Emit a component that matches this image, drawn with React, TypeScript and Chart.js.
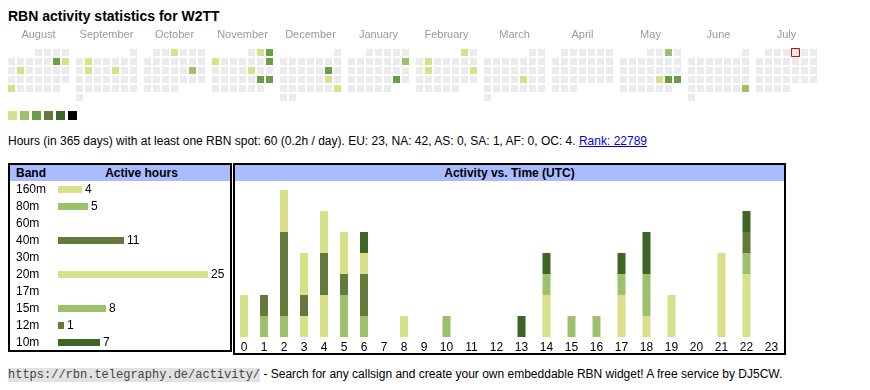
import React, { useEffect, useRef } from "react";
import { Chart, registerables } from "chart.js";

Chart.register(...registerables);

const FONT = "'Liberation Sans', Arial, Helvetica, sans-serif";
Chart.defaults.font.family = FONT;

// ---------- Calendar data ----------
const MONTH_NAMES = ["August", "September", "October", "November", "December", "January", "February", "March", "April", "May", "June", "July"];
const FIRST_YEAR = 2024;
const FIRST_MONTH = 7; // August (0-based)
const ACTIVE_DATES = [
  "2024-08-10", "2024-08-11", "2024-08-13", "2024-08-26",
  "2024-09-03", "2024-09-10", "2024-09-13",
  "2024-10-03", "2024-10-19",
  "2024-11-02", "2024-11-03", "2024-11-04", "2024-11-10", "2024-11-15", "2024-11-23", "2024-11-24",
  "2024-12-14", "2024-12-21", "2024-12-29",
  "2025-01-12", "2025-01-25",
  "2025-02-01", "2025-02-04", "2025-02-11", "2025-02-16",
  "2025-03-21",
  "2025-05-03", "2025-05-23", "2025-05-24", "2025-05-25",
  "2025-06-29",
];
const ACTIVE_LEVELS = [
  3, 1, 1, 1,
  1, 1, 1,
  1, 2,
  1, 3, 1, 3, 1, 3, 3,
  3, 1, 1,
  2, 3,
  1, 1, 1, 1,
  1,
  2, 1, 3, 3,
  2,
];
const TODAY = "2025-07-04";
const EMPTY_COLOR = "#ebebeb";
const LEVEL_COLORS = ["#d9e08a", "#9dc16a", "#6a9e45", "#637a3a", "#3c6526", "#000000"];

// ---------- Band / hour data ----------
const BANDS = ["160m", "80m", "60m", "40m", "30m", "20m", "17m", "15m", "12m", "10m"];
const BAND_ACTIVE_HOURS = [4, 5, 0, 11, 0, 25, 0, 8, 1, 7];
const BAND_COLORS = ["#d9e08a", "#9dc16a", "#6a9e45", "#637a3a", "#3c6526", "#d9e08a", "#6a9e45", "#9dc16a", "#637a3a", "#3c6526"];
const HOUR_LABELS = ["0", "1", "2", "3", "4", "5", "6", "7", "8", "9", "10", "11", "12", "13", "14", "15", "16", "17", "18", "19", "20", "21", "22", "23"];
const HOURS_160M = [1, 0, 0, 1, 2, 0, 0, 0, 0, 0, 0, 0, 0, 0, 0, 0, 0, 0, 0, 0, 0, 0, 0, 0];
const HOURS_80M = [0, 1, 1, 0, 0, 2, 1, 0, 0, 0, 0, 0, 0, 0, 0, 0, 0, 0, 0, 0, 0, 0, 0, 0];
const HOURS_60M = [0, 0, 0, 0, 0, 0, 0, 0, 0, 0, 0, 0, 0, 0, 0, 0, 0, 0, 0, 0, 0, 0, 0, 0];
const HOURS_40M = [0, 1, 4, 1, 2, 1, 2, 0, 0, 0, 0, 0, 0, 0, 0, 0, 0, 0, 0, 0, 0, 0, 0, 0];
const HOURS_30M = [0, 0, 0, 0, 0, 0, 0, 0, 0, 0, 0, 0, 0, 0, 0, 0, 0, 0, 0, 0, 0, 0, 0, 0];
const HOURS_20M = [1, 0, 2, 2, 2, 2, 1, 0, 1, 0, 0, 0, 0, 0, 2, 0, 0, 2, 1, 2, 0, 4, 3, 0];
const HOURS_17M = [0, 0, 0, 0, 0, 0, 0, 0, 0, 0, 0, 0, 0, 0, 0, 0, 0, 0, 0, 0, 0, 0, 0, 0];
const HOURS_15M = [0, 0, 0, 0, 0, 0, 0, 0, 0, 0, 1, 0, 0, 0, 1, 1, 1, 1, 2, 0, 0, 0, 1, 0];
const HOURS_12M = [0, 0, 0, 0, 0, 0, 0, 0, 0, 0, 0, 0, 0, 0, 0, 0, 0, 0, 0, 0, 0, 0, 1, 0];
const HOURS_10M = [0, 0, 0, 0, 0, 0, 1, 0, 0, 0, 0, 0, 0, 1, 1, 0, 0, 1, 2, 0, 0, 0, 1, 0];
const HOURS_BY_BAND = [HOURS_160M, HOURS_80M, HOURS_60M, HOURS_40M, HOURS_30M, HOURS_20M, HOURS_17M, HOURS_15M, HOURS_12M, HOURS_10M];

// ---------- layout constants ----------
const CELL = 9; // cell pitch in px
const MONTH_PITCH = 68 / CELL; // month block pitch in cell units
const LEGEND_PITCH = 12 / CELL;
const CAL_W = 819;
const CAL_H = 102;
const CAL_XMIN = -3.5 / CELL;
const CAL_YMIN = -28.5 / CELL;

function ChartCanvas({ make, width, height, style }: { make: (c: HTMLCanvasElement) => Chart; width: number; height: number; style: React.CSSProperties }) {
  const ref = useRef<HTMLCanvasElement | null>(null);
  useEffect(() => {
    if (!ref.current) return;
    const chart = make(ref.current);
    return () => chart.destroy();
  }, []);
  return <canvas ref={ref} width={width} height={height} style={{ position: "absolute", width, height, ...style }} />;
}

function pad2(n: number) { return n < 10 ? "0" + n : "" + n; }

function makeCalendar(canvas: HTMLCanvasElement) {
  const cells: { x: number; y: number }[] = [];
  const colors: string[] = [];
  let todayPt: { x: number; y: number } | null = null;
  for (let m = 0; m < MONTH_NAMES.length; m++) {
    const y = FIRST_YEAR + Math.floor((FIRST_MONTH + m) / 12);
    const mo = (FIRST_MONTH + m) % 12;
    const first = (new Date(y, mo, 1).getDay() + 6) % 7;
    const days = new Date(y, mo + 1, 0).getDate();
    for (let d = 1; d <= days; d++) {
      const dow = (new Date(y, mo, d).getDay() + 6) % 7;
      const row = Math.floor((d - 1 + first) / 7);
      const key = `${y}-${pad2(mo + 1)}-${pad2(d)}`;
      const pt = { x: m * MONTH_PITCH + dow, y: row };
      cells.push(pt);
      const idx = ACTIVE_DATES.indexOf(key);
      colors.push(idx >= 0 ? LEVEL_COLORS[ACTIVE_LEVELS[idx] - 1] : EMPTY_COLOR);
      if (key === TODAY) todayPt = pt;
    }
  }
  const legendPts = LEVEL_COLORS.map((_, k) => ({ x: k * LEGEND_PITCH + 1 / CELL, y: 7 }));
  const monthLabels = {
    id: "monthLabels",
    afterDatasetsDraw(chart: any) {
      const { ctx, scales } = chart;
      ctx.save();
      ctx.font = `11px ${FONT}`;
      ctx.fillStyle = "#9a9a9a";
      ctx.textAlign = "center";
      ctx.textBaseline = "middle";
      MONTH_NAMES.forEach((name, m) => {
        ctx.fillText(name, scales.x.getPixelForValue(m * MONTH_PITCH + 3), scales.y.getPixelForValue(-2));
      });
      ctx.restore();
    },
  };
  return new Chart(canvas, {
    type: "scatter",
    data: {
      datasets: [
        { data: cells, backgroundColor: colors, pointStyle: "rect", pointRadius: 3.5 * Math.SQRT2, pointBorderWidth: 0, borderWidth: 0, clip: false } as any,
        { data: todayPt ? [todayPt] : [], backgroundColor: "rgba(0,0,0,0)", borderColor: "#e00000", pointStyle: "rect", pointRadius: 4 * Math.SQRT2, pointBorderWidth: 1, borderWidth: 1, clip: false } as any,
        { data: legendPts, backgroundColor: LEVEL_COLORS, pointStyle: "rect", pointRadius: 4.5 * Math.SQRT2, pointBorderWidth: 0, borderWidth: 0, clip: false } as any,
      ],
    },
    options: {
      responsive: false,
      animation: false,
      events: [],
      layout: { padding: 0, autoPadding: false },
      plugins: { legend: { display: false }, tooltip: { enabled: false } },
      scales: {
        x: { type: "linear", display: false, min: CAL_XMIN, max: CAL_XMIN + CAL_W / CELL },
        y: { type: "linear", display: false, reverse: true, min: CAL_YMIN, max: CAL_YMIN + CAL_H / CELL },
      },
    },
    plugins: [monthLabels],
  } as any);
}

function makeBands(canvas: HTMLCanvasElement) {
  const valueLabels = {
    id: "valueLabels",
    afterDatasetsDraw(chart: any) {
      const { ctx } = chart;
      const meta = chart.getDatasetMeta(0);
      ctx.save();
      ctx.font = `12px ${FONT}`;
      ctx.fillStyle = "#000";
      ctx.textAlign = "left";
      ctx.textBaseline = "middle";
      meta.data.forEach((el: any, i: number) => {
        const v = BAND_ACTIVE_HOURS[i];
        if (v > 0) ctx.fillText(String(v), el.x + 3, el.y + 0.5);
      });
      ctx.restore();
    },
  };
  return new Chart(canvas, {
    type: "bar",
    data: {
      labels: BANDS,
      datasets: [{
        data: BAND_ACTIVE_HOURS.map((v) => (v > 0 ? v : null)),
        backgroundColor: BAND_COLORS,
        barThickness: 7,
        borderWidth: 0,
        inflateAmount: 0,
      }],
    },
    options: {
      indexAxis: "y",
      responsive: false,
      animation: false,
      events: [],
      layout: { padding: { left: 0, right: 22, top: 0, bottom: 0 }, autoPadding: false },
      plugins: { legend: { display: false }, tooltip: { enabled: false } },
      scales: {
        x: { display: false, min: 0, max: Math.max(...BAND_ACTIVE_HOURS) },
        y: {
          grid: { display: false, drawTicks: false },
          border: { display: false },
          ticks: { autoSkip: false, crossAlign: "far", color: "#000", font: { size: 12, family: FONT }, padding: 0 },
          afterFit: (s: any) => { s.width = 42; s.paddingTop = 0; s.paddingBottom = 0; },
        },
      },
    },
    plugins: [valueLabels],
  } as any);
}

function makeHours(canvas: HTMLCanvasElement) {
  // HTML-table-like column widths derived from the label text length
  const widths = HOUR_LABELS.map((l) => 15 + 5 * l.length);
  const centers: number[] = [];
  let acc = 0;
  widths.forEach((w) => { centers.push(acc + w / 2); acc += w; });
  const total = acc;
  return new Chart(canvas, {
    type: "bar",
    data: {
      datasets: BANDS.map((b, bi) => ({
        label: b,
        data: HOURS_BY_BAND[bi].map((v, h) => ({ x: centers[h], y: v > 0 ? v : null })),
        backgroundColor: BAND_COLORS[bi],
        barThickness: 8,
        borderWidth: 0,
        inflateAmount: 0,
      })),
    },
    options: {
      responsive: false,
      animation: false,
      events: [],
      layout: { padding: { top: 8, left: 0, right: 0, bottom: 0 }, autoPadding: false },
      plugins: { legend: { display: false }, tooltip: { enabled: false } },
      scales: {
        x: {
          type: "linear",
          stacked: true,
          offset: false,
          min: 0,
          max: total,
          grid: { display: false, drawTicks: false },
          border: { display: false },
          afterBuildTicks: (s: any) => { s.ticks = centers.map((v) => ({ value: v })); },
          afterFit: (s: any) => { s.paddingLeft = 0; s.paddingRight = 0; },
          ticks: {
            autoSkip: false,
            maxRotation: 0,
            color: "#000",
            padding: 3,
            font: { size: 12, family: FONT, lineHeight: 1.25 },
            callback: (_v: any, i: number) => HOUR_LABELS[i],
          },
        },
        y: { stacked: true, display: false, min: 0, max: 7 },
      },
    },
  } as any);
}

const headerStyle: React.CSSProperties = {
  position: "absolute",
  background: "#aabbff",
  font: `bold 12px ${FONT}`,
  lineHeight: "16px",
  color: "#000",
};

export default function App() {
  return (
    <div style={{ position: "absolute", left: 0, top: 0, width: 870, height: 390, fontFamily: FONT, color: "#000" }}>
      <div style={{ position: "absolute", left: 8, top: 8, font: `bold 14px ${FONT}`, lineHeight: "16px", whiteSpace: "nowrap" }}>
        RBN activity statistics for W2TT
      </div>
      <ChartCanvas make={makeCalendar} width={CAL_W} height={CAL_H} style={{ left: 8, top: 24 }} />
      <div style={{ position: "absolute", left: 8, top: 134, font: `12px ${FONT}`, lineHeight: "15px", whiteSpace: "nowrap" }}>
        Hours (in 365 days) with at least one RBN spot: 60 (0.2h / day). EU: 23, NA: 42, AS: 0, SA: 1, AF: 0, OC: 4.{" "}
        <a href="#" style={{ color: "#0000ee", textDecoration: "underline" }}>Rank: 22789</a>
      </div>

      {/* Left panel */}
      <div style={{ position: "absolute", left: 8, top: 163, width: 224, height: 189, border: "2px solid #000", boxSizing: "border-box" }} />
      <div style={{ ...headerStyle, left: 10, top: 165, width: 220, height: 16 }}>
        <span style={{ position: "absolute", left: 6 }}>Band</span>
        <span style={{ position: "absolute", left: 48, width: 167, textAlign: "center" }}>Active hours</span>
      </div>
      <ChartCanvas make={makeBands} width={214} height={170} style={{ left: 16, top: 181 }} />

      {/* Right panel */}
      <div style={{ position: "absolute", left: 233, top: 163, width: 553, height: 192, border: "2px solid #000", boxSizing: "border-box" }} />
      <div style={{ ...headerStyle, left: 235, top: 165, width: 549, height: 16, textAlign: "center" }}>
        Activity vs. Time (UTC)
      </div>
      <ChartCanvas make={makeHours} width={550} height={176} style={{ left: 234, top: 182 }} />

      <div style={{ position: "absolute", left: 8, top: 366, font: `12px ${FONT}`, lineHeight: "16px", whiteSpace: "nowrap" }}>
        <code style={{ font: "12px 'Liberation Mono', monospace", background: "#e2e2e2", color: "#444" }}>https://rbn.telegraphy.de/activity/</code>
        {" "}- Search for any callsign and create your own embeddable RBN widget! A free service by DJ5CW.
      </div>
    </div>
  );
}
